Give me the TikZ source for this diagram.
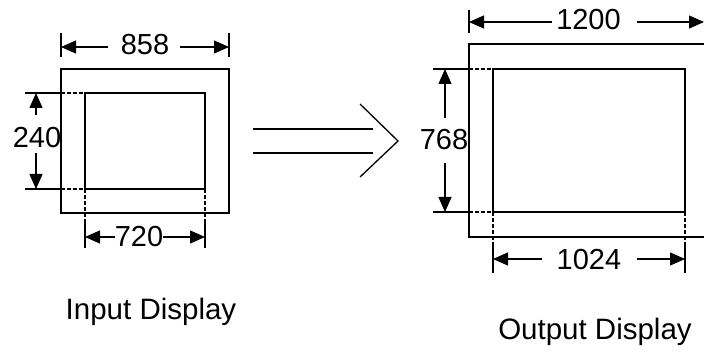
\documentclass[tikz,border=0pt]{standalone}
\usepackage{fontspec}
\setmainfont{Liberation Sans}
\usetikzlibrary{arrows.meta}
\begin{document}
\begin{tikzpicture}[x=1pt,y=-1pt,
  box/.style={line width=1.4pt},
  ext/.style={line width=1.2pt},
  extdash/.style={line width=1.2pt,dash pattern=on 4pt off 2pt},
  dim/.style={line width=1.2pt,-{Triangle[length=15pt,width=13pt]}},
  lbl/.style={font=\fontsize{29}{32}\selectfont,inner sep=0pt,anchor=base},
  captext/.style={font=\fontsize{29.5}{32}\selectfont,inner sep=0pt,anchor=base}]
\useasboundingbox (0,0) rectangle (704,352);
\clip (0,0) rectangle (704,352);
% ---- Input display ----
\coordinate (iotl) at (61,69);
\coordinate (iobr) at (229,213);
\coordinate (iitl) at (85,93);
\coordinate (iibr) at (205,189);
\draw[box] (iotl) rectangle (iobr);
\draw[box] (iitl) rectangle (iibr);
% 858
\draw[ext] (61,33) -- (61,57);
\draw[ext] (229,33) -- (229,57);
\node[lbl] (t858) at (145,55) {858};
\coordinate (s858l) at (108,47);
\coordinate (s858r) at (180,47);
\coordinate (a858l) at (61,47);
\coordinate (a858r) at (229,47);
\draw[dim] (s858l) -- (a858l);
\draw[dim] (s858r) -- (a858r);
% 240
\draw[ext] (25,93) -- (61,93);
\draw[extdash] (61,93) -- (85,93);
\draw[ext] (25,189) -- (61,189);
\draw[extdash] (61,189) -- (85,189);
\node[lbl] (t240) at (37,148) {240};
\coordinate (s240t) at (36,115);
\coordinate (s240b) at (36,153);
\coordinate (a240t) at (36,93);
\coordinate (a240b) at (36,189);
\draw[dim] (s240t) -- (a240t);
\draw[dim] (s240b) -- (a240b);
% 720
\draw[extdash] (85,189) -- (85,220);
\draw[ext] (85,220) -- (85,248);
\draw[extdash] (205,189) -- (205,220);
\draw[ext] (205,220) -- (205,248);
\node[lbl] (t720) at (139,247) {720};
\coordinate (s720l) at (115,237);
\coordinate (s720r) at (163,237);
\coordinate (a720l) at (85,237);
\coordinate (a720r) at (205,237);
\draw[dim] (s720l) -- (a720l);
\draw[dim] (s720r) -- (a720r);
\node[captext] (tin) at (151,320) {Input Display};
% ---- transform arrow ----
\coordinate (d1a) at (253,129);
\coordinate (d1b) at (373,129);
\coordinate (d2a) at (253,153);
\coordinate (d2b) at (373,153);
\draw[line width=1.3pt] (d1a) -- (d1b);
\draw[line width=1.3pt] (d2a) -- (d2b);
\coordinate (cv1) at (360,104);
\coordinate (cv2) at (398,141);
\coordinate (cv3) at (360,177);
\draw[line width=1.3pt] (cv1) -- (cv2) -- (cv3);
% ---- Output display ----
\coordinate (ootl) at (469,44);
\coordinate (oobr) at (716,237);
\coordinate (oitl) at (493,69);
\coordinate (oibr) at (685,212);
\draw[box] (ootl) rectangle (oobr);
\draw[box] (oitl) rectangle (oibr);
% 1200
\draw[ext] (469,10) -- (469,33);
\node[lbl] (t1200) at (588.5,30) {1200};
\coordinate (s1200l) at (552,22);
\coordinate (s1200r) at (637,22);
\coordinate (a1200l) at (469,22);
\coordinate (a1200r) at (704,22);
\draw[dim] (s1200l) -- (a1200l);
\draw[dim] (s1200r) -- (a1200r);
% 768
\draw[ext] (433,69) -- (469,69);
\draw[extdash] (469,69) -- (493,69);
\draw[ext] (433,212) -- (469,212);
\draw[extdash] (469,212) -- (493,212);
\node[lbl] (t768) at (444,150) {768};
\coordinate (s768t) at (445,118);
\coordinate (s768b) at (445,163);
\coordinate (a768t) at (445,69);
\coordinate (a768b) at (445,212);
\draw[dim] (s768t) -- (a768t);
\draw[dim] (s768b) -- (a768b);
% 1024
\draw[extdash] (493,212) -- (493,244);
\draw[ext] (493,244) -- (493,273);
\draw[extdash] (685,212) -- (685,244);
\draw[ext] (685,244) -- (685,273);
\node[lbl] (t1024) at (589,270) {1024};
\coordinate (s1024l) at (542,259);
\coordinate (s1024r) at (637,259);
\coordinate (a1024l) at (493,259);
\coordinate (a1024r) at (685,259);
\draw[dim] (s1024l) -- (a1024l);
\draw[dim] (s1024r) -- (a1024r);
\node[captext] (tout) at (595,340) {Output Display};
\end{tikzpicture}
\end{document}
